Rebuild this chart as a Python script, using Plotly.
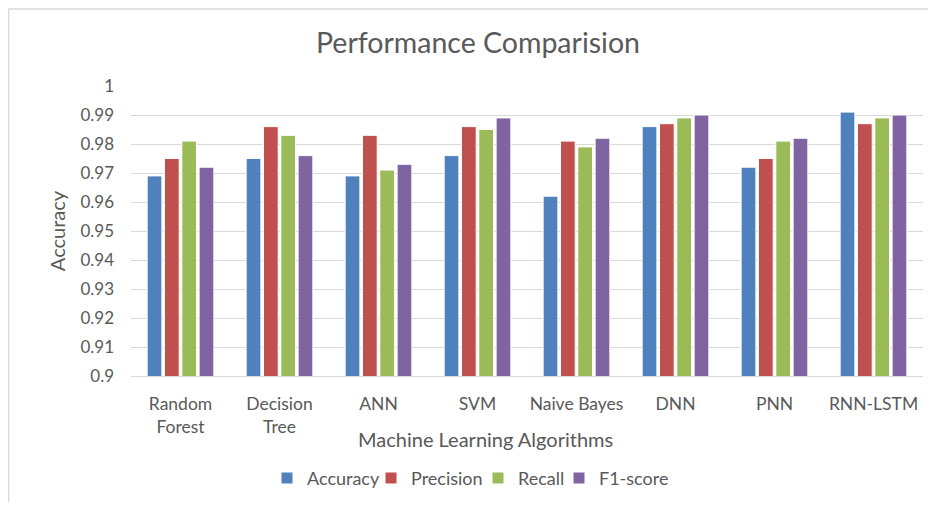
import plotly.graph_objects as go

categories = ["Random<br>Forest", "Decision<br>Tree", "ANN", "SVM", "Naive Bayes", "DNN", "PNN", "RNN-LSTM"]
accuracy = [0.969, 0.975, 0.969, 0.976, 0.962, 0.986, 0.972, 0.991]
precision = [0.975, 0.986, 0.983, 0.986, 0.981, 0.987, 0.975, 0.987]
recall = [0.981, 0.983, 0.971, 0.985, 0.979, 0.989, 0.981, 0.989]
f1_score = [0.972, 0.976, 0.973, 0.989, 0.982, 0.990, 0.982, 0.990]
y_tick_vals = [0.9, 0.91, 0.92, 0.93, 0.94, 0.95, 0.96, 0.97, 0.98, 0.99, 1.0]
y_tick_text = ["0.9", "0.91", "0.92", "0.93", "0.94", "0.95", "0.96", "0.97", "0.98", "0.99", "1"]

series_names = ["Accuracy", "Precision", "Recall", "F1-score"]
series_values = [accuracy, precision, recall, f1_score]
series_colors = ["#4F81BD", "#C0504D", "#9BBB59", "#8064A2"]

FONT = "Lato, 'Open Sans', sans-serif"
GREY = "#595959"
W, H = 920, 494
L, R, T, B = 123, 5, 78, 124
PW, PH = W - L - R, H - T - B

# left edges (px, relative to plot-area left) of each legend entry
legend_left_px = [136, 240, 347, 428]
legend_keys = ["legend", "legend2", "legend3", "legend4"]

fig = go.Figure()
for name, vals, color, lk in zip(series_names, series_values, series_colors, legend_keys):
    fig.add_trace(go.Bar(
        name=name, x=categories, y=vals, legend=lk,
        marker=dict(color=color, line=dict(color="white", width=1)),
    ))

legend_common = dict(orientation="h", xanchor="left", y=-103 / PH, yanchor="middle",
                     font=dict(size=18, color=GREY, family=FONT), itemwidth=30,
                     bgcolor="rgba(0,0,0,0)")
legend_layout = {}
for lk, px in zip(legend_keys, legend_left_px):
    legend_layout[lk] = dict(legend_common, x=px / PW)

fig.update_layout(
    width=W, height=H,
    margin=dict(l=L, r=R, t=T, b=B),
    paper_bgcolor="white", plot_bgcolor="white",
    font=dict(family=FONT, color=GREY, size=17),
    title=dict(text="Performance Comparision", x=470 / W, xanchor="center", y=1 - 35 / H, yanchor="middle",
               font=dict(size=28.5, color=GREY, family=FONT)),
    barmode="group", bargap=0.30, bargroupgap=0.15,
    showlegend=True,
    xaxis=dict(
        showgrid=False, showline=True, linecolor="#D9D9D9", linewidth=1,
        ticks="", tickfont=dict(size=17.5, color=GREY), ticklabelstandoff=12,
    ),
    yaxis=dict(
        range=[0.9, 1.0], tickvals=y_tick_vals, ticktext=y_tick_text,
        showgrid=True, gridcolor="#D9D9D9", gridwidth=1, zeroline=False,
        ticks="", ticklabelstandoff=16, tickfont=dict(size=17, color=GREY),
        title=dict(text="Accuracy", font=dict(size=20, color=GREY), standoff=9),
    ),
    annotations=[
        dict(text="Machine Learning Algorithms", xref="paper", yref="paper", x=354 / PW,
             y=-63 / PH, xanchor="center", yanchor="middle", showarrow=False,
             font=dict(size=20, color=GREY, family=FONT)),
    ],
    shapes=[
        dict(type="line", xref="paper", yref="paper", x0=-(L - 0.5) / PW, x1=-(L - 0.5) / PW,
             y0=-2, y1=(PH + T - 0.5) / PH, line=dict(color="#D9D9D9", width=1.5)),
        dict(type="line", xref="paper", yref="paper", x0=-(L - 0.5) / PW, x1=2,
             y0=(PH + T - 0.5) / PH, y1=(PH + T - 0.5) / PH, line=dict(color="#D9D9D9", width=1.5)),
    ],
    **legend_layout,
)

fig.write_html("out.html")
